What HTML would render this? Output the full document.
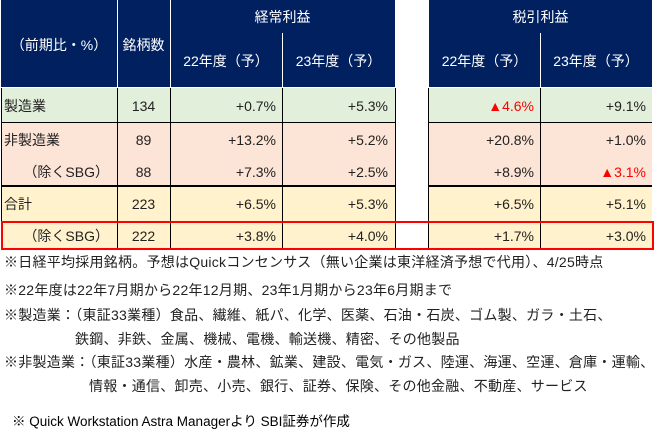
<!DOCTYPE html>
<html><head><meta charset="utf-8"><style>
body{margin:0;width:666px;height:443px;background:#fff;position:relative;overflow:hidden;font-family:"Liberation Sans","Noto Sans CJK JP",sans-serif;color:#222}
.a{position:absolute}
.h{background:#002060}
.t{position:absolute;font-size:14px;line-height:16px;white-space:nowrap}
.w{color:#fff}
.r{text-align:right}
.c{text-align:center}
.red{color:#f00}
.vl{position:absolute;width:1px;background:#000}
.wl{position:absolute;width:1px;background:#fff}
.hl{position:absolute;height:2px;background:#000}
.n{font-size:14px;position:absolute;white-space:nowrap;line-height:16px;letter-spacing:0.25px}
</style></head><body>
<div class="a h" style="left:1px;top:0;width:394px;height:87px"></div>
<div class="a h" style="left:429px;top:0;width:223px;height:87px"></div>
<div class="wl" style="left:117px;top:0;height:87px"></div>
<div class="wl" style="left:170px;top:0;height:87px"></div>
<div class="wl" style="left:282px;top:33px;height:54px"></div>
<div class="wl" style="left:540px;top:33px;height:54px"></div>
<div class="t w c" style="left:1px;top:37px;width:116px">（前期比・%）</div>
<div class="t w c" style="left:117px;top:37px;width:53px">銘柄数</div>
<div class="t w c" style="left:170px;top:9px;width:225px">経常利益</div>
<div class="t w c" style="left:429px;top:9px;width:223px">税引利益</div>
<div class="t w c" style="left:170px;top:53px;width:112px">22年度（予）</div>
<div class="t w c" style="left:282px;top:53px;width:113px">23年度（予）</div>
<div class="t w c" style="left:429px;top:53px;width:111px">22年度（予）</div>
<div class="t w c" style="left:540px;top:53px;width:112px">23年度（予）</div>
<div class="a" style="left:1px;top:88px;width:394px;height:35px;background:#E2EFDA"></div>
<div class="a" style="left:429px;top:88px;width:223px;height:35px;background:#E2EFDA"></div>
<div class="a" style="left:1px;top:123px;width:394px;height:63px;background:#FCE4D6"></div>
<div class="a" style="left:429px;top:123px;width:223px;height:63px;background:#FCE4D6"></div>
<div class="a" style="left:1px;top:186px;width:394px;height:63px;background:#FFF2CC"></div>
<div class="a" style="left:429px;top:186px;width:223px;height:63px;background:#FFF2CC"></div>
<div class="vl" style="left:1px;top:88px;height:161px"></div>
<div class="vl" style="left:117px;top:88px;height:161px"></div>
<div class="vl" style="left:170px;top:88px;height:161px"></div>
<div class="vl" style="left:282px;top:88px;height:161px"></div>
<div class="vl" style="left:395px;top:88px;height:161px"></div>
<div class="vl" style="left:428px;top:88px;height:161px"></div>
<div class="vl" style="left:540px;top:88px;height:161px"></div>
<div class="hl" style="left:1px;top:122px;width:394px;height:1px"></div>
<div class="hl" style="left:428px;top:122px;width:224px;height:1px"></div>
<div class="hl" style="left:1px;top:185px;width:394px"></div>
<div class="hl" style="left:428px;top:185px;width:224px"></div>
<div class="a" style="left:1px;top:221px;width:649px;height:25px;border:2px solid #f00"></div>
<div class="t" style="left:4px;top:98px">製造業</div>
<div class="t" style="left:4px;top:132px">非製造業</div>
<div class="t r" style="left:1px;top:164px;width:108px">（除くSBG）</div>
<div class="t" style="left:4px;top:196px">合計</div>
<div class="t r" style="left:1px;top:228px;width:108px">（除くSBG）</div>
<div class="t c" style="left:117px;top:98px;width:53px">134</div>
<div class="t c" style="left:117px;top:132px;width:53px">89</div>
<div class="t c" style="left:117px;top:164px;width:53px">88</div>
<div class="t c" style="left:117px;top:196px;width:53px">223</div>
<div class="t c" style="left:117px;top:228px;width:53px">222</div>
<div class="t r" style="left:170px;top:98px;width:106px">+0.7%</div>
<div class="t r" style="left:170px;top:132px;width:106px">+13.2%</div>
<div class="t r" style="left:170px;top:164px;width:106px">+7.3%</div>
<div class="t r" style="left:170px;top:196px;width:106px">+6.5%</div>
<div class="t r" style="left:170px;top:228px;width:106px">+3.8%</div>
<div class="t r" style="left:282px;top:98px;width:106px">+5.3%</div>
<div class="t r" style="left:282px;top:132px;width:106px">+5.2%</div>
<div class="t r" style="left:282px;top:164px;width:106px">+2.5%</div>
<div class="t r" style="left:282px;top:196px;width:106px">+5.3%</div>
<div class="t r" style="left:282px;top:228px;width:106px">+4.0%</div>
<div class="t r red" style="left:429px;top:98px;width:105px">▲4.6%</div>
<div class="t r" style="left:429px;top:132px;width:105px">+20.8%</div>
<div class="t r" style="left:429px;top:164px;width:105px">+8.9%</div>
<div class="t r" style="left:429px;top:196px;width:105px">+6.5%</div>
<div class="t r" style="left:429px;top:228px;width:105px">+1.7%</div>
<div class="t r" style="left:540px;top:98px;width:106px">+9.1%</div>
<div class="t r" style="left:540px;top:132px;width:106px">+1.0%</div>
<div class="t r red" style="left:540px;top:164px;width:106px">▲3.1%</div>
<div class="t r" style="left:540px;top:196px;width:106px">+5.1%</div>
<div class="t r" style="left:540px;top:228px;width:106px">+3.0%</div>
<div class="n" style="left:4px;top:254px">※日経平均採用銘柄。予想はQuickコンセンサス（無い企業は東洋経済予想で代用）、4/25時点</div>
<div class="n" style="left:4px;top:282px">※22年度は22年7月期から22年12月期、23年1月期から23年6月期まで</div>
<div class="n" style="left:4px;top:307px">※製造業：（東証33業種）食品、繊維、紙パ、化学、医薬、石油・石炭、ゴム製、ガラ・土石、</div>
<div class="n" style="left:75px;top:331px">鉄鋼、非鉄、金属、機械、電機、輸送機、精密、その他製品</div>
<div class="n" style="left:4px;top:354px">※非製造業：（東証33業種）水産・農林、鉱業、建設、電気・ガス、陸運、海運、空運、倉庫・運輸、</div>
<div class="n" style="left:89px;top:378px">情報・通信、卸売、小売、銀行、証券、保険、その他金融、不動産、サービス</div>
<div class="n" style="left:12px;top:414px;font-size:13.5px;color:#000;letter-spacing:0">※ Quick Workstation Astra Managerより SBI証券が作成</div>
</body></html>
